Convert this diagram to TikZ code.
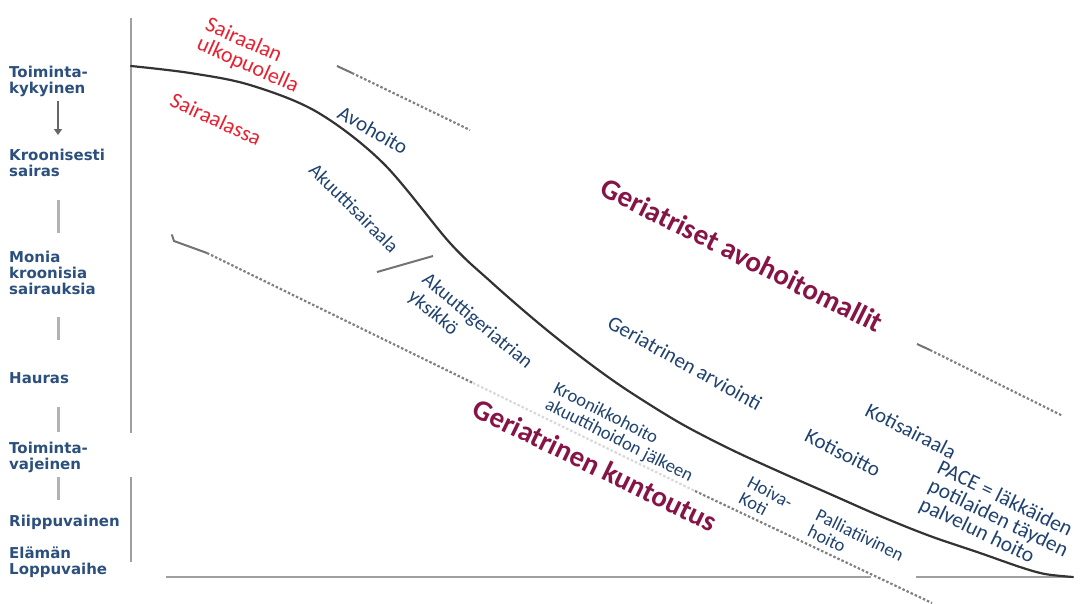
\documentclass[tikz,border=0pt]{standalone}
\usepackage{fontspec}
\setmainfont{Carlito}
\newfontfamily\scalefont{DejaVu Sans}
\usepackage{xcolor}
\usepackage{tikz}
\usetikzlibrary{arrows.meta}

\definecolor{scaleblue}{RGB}{44,80,125}
\definecolor{careblue}{RGB}{32,66,112}
\definecolor{placered}{RGB}{232,32,48}
\definecolor{modelred}{RGB}{135,20,70}

\begin{document}
\begin{tikzpicture}[x=1pt, y=-1pt,
    stage/.style={anchor=west, inner sep=0pt, align=left, text=scaleblue,
      font=\scalefont\bfseries\fontsize{15}{16}\selectfont},
    place/.style={inner sep=0pt, align=left, text=placered, font=\fontsize{22}{21}\selectfont},
    care/.style={inner sep=0pt, align=left, text=careblue, font=\fontsize{21}{22}\selectfont},
    smallcare/.style={care, font=\fontsize{18.5}{18}\selectfont},
    model/.style={inner sep=0pt, text=modelred, font=\bfseries\fontsize{29}{30}\selectfont},
    axis/.style={draw=gray!75, line width=2.5pt},
    tick/.style={draw=gray!60, line width=3pt},
    course/.style={draw=black!80, line width=2.2pt, line cap=round},
    stub/.style={draw=black!55, line width=2pt},
    guide/.style={draw=black!50, line width=2.2pt, dash pattern=on 2.5pt off 2pt},
    faint/.style={guide, draw=gray!30}]
    \useasboundingbox (0,0) rectangle (1087,603);

    % scale of functional ability on the left
    \node[stage] (kyky) at (9,81) {Toiminta-\\kykyinen};
    \node[stage] (sairas) at (9,163) {Kroonisesti\\sairas};
    \node[stage] (monia) at (9,273) {Monia\\kroonisia\\sairauksia};
    \node[stage] (hauras) at (9,378) {Hauras};
    \node[stage] (vajeinen) at (9,457) {Toiminta-\\vajeinen};
    \node[stage] (riippuvainen) at (9,522) {Riippuvainen};
    \node[stage] (loppuvaihe) at (9,562) {Elämän\\Loppuvaihe};
    \draw[tick, draw=black!60, line width=2.6pt, -{Triangle[length=6pt,width=8pt]}] (58,101) -- (58,135);
    \draw[tick] (58,200) -- (58,233);
    \draw[tick] (58,317) -- (58,340);
    \draw[tick] (58,407) -- (58,432);
    \draw[tick] (58,477) -- (58,500);

    % axes
    \draw[axis] (131,18) -- (131,433);
    \draw[axis] (131,477) -- (131,562);
    \draw[axis] (166,577) -- (871,577);
    \draw[axis] (916,577) -- (1073,577);

    % decline curve
    \draw[course] plot[smooth, tension=0.55] coordinates {(131,66) (190,73) (250,85) (317,112)
      (383,163) (450,243) (490,281) (530,316) (563,343) (597,369) (630,392) (680,423)
      (730,449) (780,472) (830,494) (880,516) (930,536) (980,553) (1020,567) (1045,574)
      (1073,577)};

    % boundaries of the care areas
    \draw[stub] (337,66) -- (352,73);
    \draw[guide] (352,73) -- (470,130);
    \draw[stub] (917,344) -- (930,350);
    \draw[guide] (930,350) -- (1063,416);
    \draw[stub, line cap=round] (172,235) -- (174,241) -- (207,253);
    \draw[guide] (207,253) -- (473,383);
    \draw[faint] (473,383) -- (695,491);
    \draw[guide] (695,491) -- (932,603);
    \draw[stub] (377,272) -- (433,256);

    % labels along the curve
    \node[place, rotate=-24] (ulkopuolella) at (252,56) {Sairaalan\\ulkopuolella};
    \node[place, rotate=-25] (sairaalassa) at (216,119) {Sairaalassa};
    \node[care, rotate=-30] (avohoito) at (373,130) {Avohoito};
    \node[care, rotate=-45, font=\fontsize{19.5}{19}\selectfont] (akuutti) at (354,208) {Akuuttisairaala};
    \node[care, rotate=-40, font=\fontsize{20}{22}\selectfont] (akgeri) at (470,330) {Akuuttigeriatrian\\yksikkö};
    \node[care, rotate=-29] (arviointi) at (685,363) {Geriatrinen arviointi};
    \node[smallcare, rotate=-27] (kroonikko) at (623,433) {Kroonikkohoito\\akuuttihoidon jälkeen};
    \node[smallcare, rotate=-28] (hoivakoti) at (766,500) {Hoiva-\\Koti};
    \node[smallcare, rotate=-26] (palliatiivinen) at (856,543) {Palliatiivinen\\hoito};
    \node[care, rotate=-27] (kotisoitto) at (843,453) {Kotisoitto};
    \node[care, rotate=-27] (kotisairaala) at (911,431) {Kotisairaala};
    \node[care, rotate=-26, font=\fontsize{21.5}{20.5}\selectfont] (pace) at (998,519) {PACE = läkkäiden\\potilaiden täyden\\palvelun hoito};
    \node[model, rotate=-26.5] (avomallit) at (742,255) {Geriatriset avohoitomallit};
    \node[model, rotate=-26] (kuntoutus) at (595,465) {Geriatrinen kuntoutus};
\end{tikzpicture}
\end{document}
